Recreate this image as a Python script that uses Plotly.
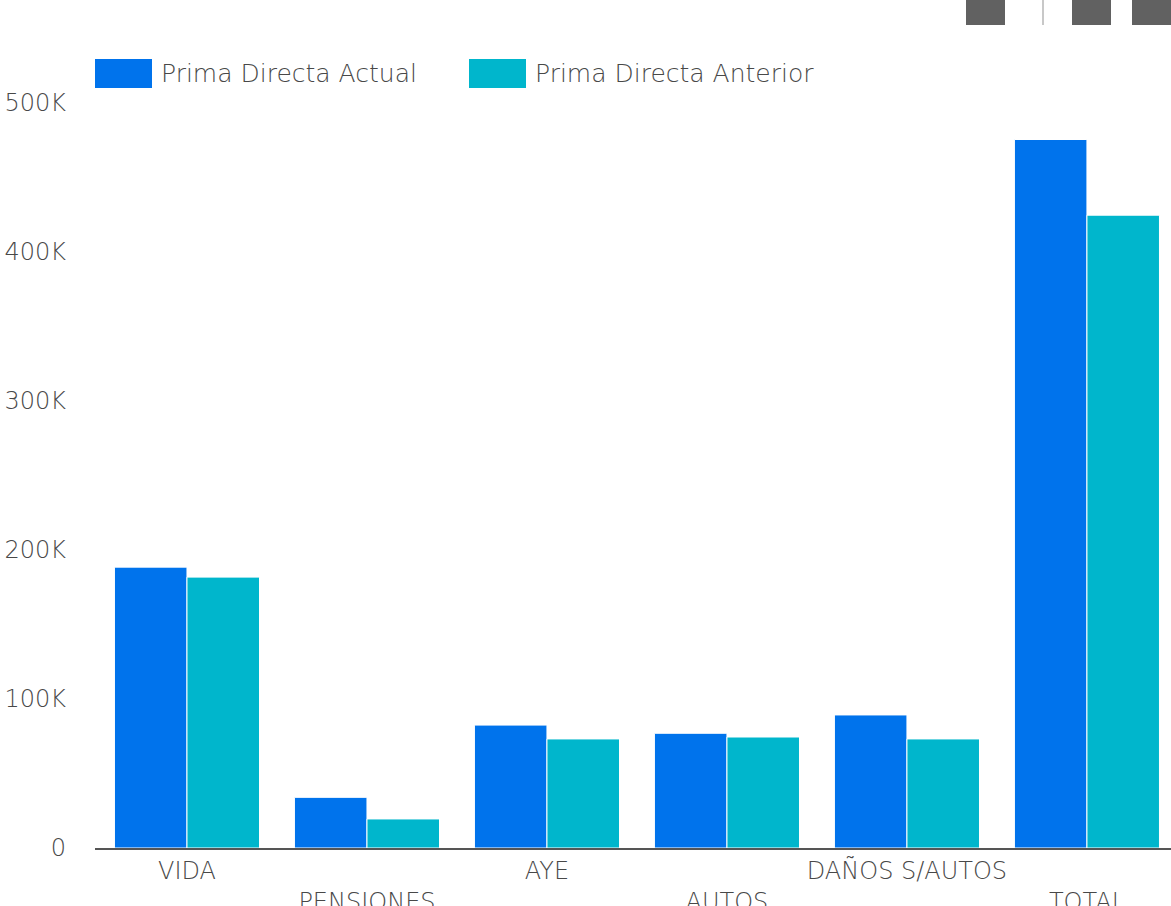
import plotly.graph_objects as go

# Data
categories = ['VIDA', 'PENSIONES', 'AYE', 'AUTOS', 'DAÑOS S/AUTOS', 'TOTAL']
prima_actual = [188500, 34000, 82500, 77000, 89300, 475500]
prima_anterior = [181800, 19500, 73200, 74500, 73200, 424700]
ytick_vals = [0, 100000, 200000, 300000, 400000, 500000]
ytick_text = ['0', '100K', '200K', '300K', '400K', '500K']

COLORS = {
    'actual': '#0073EC',
    'anterior': '#00B6CC',
    'text': '#484848',
    'axis': '#555555',
}
FONT = '"DejaVu Sans", sans-serif'
FONT_WEIGHT = 300

# staggered category labels (every second one drops a row)
tick_text = [c if i % 2 == 0 else '<br>' + c for i, c in enumerate(categories)]

fig = go.Figure()
fig.add_trace(go.Bar(
    x=categories, y=prima_actual, name='Prima Directa Actual',
    marker=dict(color=COLORS['actual'], line=dict(color='white', width=1)),
))
fig.add_trace(go.Bar(
    x=categories, y=prima_anterior, name='Prima Directa Anterior',
    marker=dict(color=COLORS['anterior'], line=dict(color='white', width=1)),
))

tick_font = dict(size=24, color=COLORS['text'], weight=FONT_WEIGHT)
fig.update_layout(
    width=1171, height=906,
    margin=dict(l=95, r=0, t=103, b=58),
    plot_bgcolor='white', paper_bgcolor='white',
    barmode='group', bargap=0.194, bargroupgap=0,
    showlegend=False,
    font=dict(family=FONT, size=24, color=COLORS['text'], weight=FONT_WEIGHT),
    xaxis=dict(
        tickmode='array', tickvals=categories, ticktext=tick_text,
        range=[-0.511, 5.467], showgrid=False, automargin=False,
        showline=True, linecolor=COLORS['axis'], linewidth=2,
        ticks='', tickfont=tick_font,
    ),
    yaxis=dict(
        range=[0, 500000], tickvals=ytick_vals, ticktext=ytick_text,
        showgrid=False, zeroline=False, ticks='', automargin=False,
        ticklabelstandoff=28, tickfont=tick_font,
    ),
)

# custom legend with wide swatches
legend_items = [('Prima Directa Actual', COLORS['actual'], 95),
                ('Prima Directa Anterior', COLORS['anterior'], 469)]
for label, color, x0 in legend_items:
    fig.add_shape(type='rect', xref='paper', yref='paper',
                  x0=(x0 - 95) / 1076, x1=(x0 + 57 - 95) / 1076,
                  y0=(848 - 88) / 745, y1=(848 - 59) / 745,
                  fillcolor=color, line=dict(width=0))
    fig.add_annotation(text=label, xref='paper', yref='paper',
                       x=(x0 + 64 - 95) / 1076, y=(848 - 73) / 745,
                       xanchor='left', yanchor='middle', showarrow=False,
                       font=dict(size=25, color=COLORS['text'], weight=FONT_WEIGHT))

# toolbar stubs cut off at the top right
for x0 in [966, 1072, 1132]:
    fig.add_shape(type='rect', xref='paper', yref='paper',
                  x0=(x0 - 95) / 1076, x1=(x0 + 39 - 95) / 1076,
                  y0=(848 - 25) / 745, y1=(848 + 5) / 745,
                  fillcolor='#616161', line=dict(width=0))
fig.add_shape(type='line', xref='paper', yref='paper',
              x0=(1043 - 95) / 1076, x1=(1043 - 95) / 1076,
              y0=(848 - 25) / 745, y1=(848 + 5) / 745,
              line=dict(color='#c8c8c8', width=2))

fig.write_html("out.html", config={'displayModeBar': False},
               post_script="document.body.style.margin='0';")
